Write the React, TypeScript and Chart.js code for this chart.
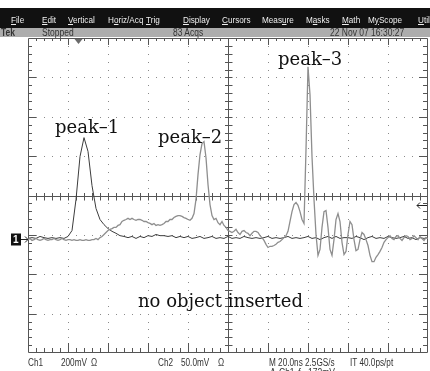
import React, { useEffect, useRef } from "react";
import { Chart, registerables } from "chart.js";

Chart.register(...registerables);

// ---- data (vertical values in graticule divisions, time in ns) ----
const SAMPLE_NS_CH1 = 2;
const SAMPLE_NS_CH2 = 1;

const CH1_DIV = [
  -1.09, -1.07, -1.09, -1.04, -1.07, -1.09, -1.07, -1.09, -1.07, -1.09,
  -1.04, -0.89, -0.10, 0.99, 1.47, 1.12, 0.25, -0.33, -0.61, -0.74,
  -0.84, -0.91, -0.96, -1.02, -1.04, -1.07, -1.04, -1.09, -1.04, -1.07,
  -1.02, -1.04, -0.99, -1.02, -1.02, -1.04, -1.02, -1.07, -1.04, -1.07,
  -1.04, -1.09, -1.07, -1.04, -1.09, -1.07, -1.04, -1.09, -1.07, -1.09,
  -1.04, -1.09, -1.07, -1.09, -1.04, -1.07, -1.09, -1.07, -1.09, -1.07,
  -1.04, -1.09, -1.07, -1.09, -1.07, -1.04, -1.09, -1.07, -1.09, -1.07,
  -1.04, -1.09, -1.07, -1.12, -1.07, -1.04, -1.09, -1.04, -1.09, -1.07,
  -1.07, -1.09, -1.04, -1.07, -1.12, -1.07, -1.04, -1.09, -1.07, -1.09,
  -1.04, -1.07, -1.09, -1.07, -1.04, -1.09, -1.07, -1.12, -1.07, -1.09,
  -1.07,
];

const CH2_DIV = [
  -1.12, -1.09, -1.14, -1.12, -1.09, -1.12, -1.14, -1.12, -1.09, -1.12,
  -1.14, -1.12, -1.12, -1.09, -1.12, -1.14, -1.12, -1.09, -1.12, -1.14,
  -1.12, -1.12, -1.14, -1.12, -1.14, -1.14, -1.12, -1.14, -1.14, -1.12,
  -1.14, -1.14, -1.12, -1.12, -1.09, -1.12, -1.07, -1.04, -0.99, -0.94,
  -0.89, -0.86, -0.84, -0.81, -0.81, -0.76, -0.74, -0.66, -0.63, -0.61,
  -0.58, -0.61, -0.58, -0.61, -0.63, -0.61, -0.61, -0.63, -0.66, -0.66,
  -0.69, -0.71, -0.74, -0.71, -0.76, -0.74, -0.76, -0.74, -0.71, -0.66,
  -0.66, -0.61, -0.61, -0.56, -0.53, -0.51, -0.51, -0.53, -0.56, -0.58,
  -0.61, -0.63, -0.58, -0.46, -0.10, 0.53, 1.04, 1.32, 1.37, 0.96,
  0.28, -0.23, -0.51, -0.61, -0.58, -0.69, -0.74, -0.66, -0.76, -0.81,
  -0.89, -0.91, -0.94, -0.91, -0.86, -0.94, -0.99, -0.91, -0.89, -0.94,
  -0.96, -1.02, -0.96, -0.91, -0.91, -0.94, -1.02, -1.07, -1.14, -1.24,
  -1.32, -1.29, -1.29, -1.27, -1.24, -1.19, -1.17, -1.12, -1.07, -1.02,
  -0.91, -0.66, -0.41, -0.23, -0.18, -0.25, -0.41, -0.61, -0.71, 1.17,
  3.27, 2.56, 0.99, -0.10, -0.99, -1.52, -1.37, -0.81, -0.41, -0.38,
  -0.81, -1.37, -1.52, -1.12, -0.61, -0.46, -0.66, -1.19, -1.50, -1.42,
  -0.99, -0.66, -0.74, -1.12, -1.40, -1.37, -1.12, -0.94, -0.99, -1.12,
  -1.27, -1.52, -1.68, -1.68, -1.57, -1.50, -1.42, -1.32, -1.19, -1.12,
  -1.07, -1.02, -1.09, -1.12, -1.04, -1.02, -1.09, -1.14, -1.07, -1.02,
  -1.04, -1.12, -1.09, -1.02, -1.07, -1.12, -1.04, -1.09, -1.14, -1.07,
  -1.09,
];

// graticule: 10 x 8 divisions, 20 ns/div, 5 minor steps per division
const X_MIN = 0;
const X_MAX = 200;
const X_DIVS = 10;
const Y_MIN = -4;
const Y_MAX = 4;
const Y_DIVS = 8;
const MINOR = 5;

const TRIGGER_POS_NS = 25;
const CH1_GROUND_DIV = -1.1;
const CH2_MARK_DIV = -0.25;

const MENU_ITEMS: [string, number][] = [
  ["File", 0], ["Edit", 0], ["Vertical", 0], ["Horiz/Acq", 1], ["Trig", 0],
  ["Display", 0], ["Cursors", 0], ["Measure", 4], ["Masks", 1], ["Math", 0],
  ["MyScope", 1], ["Utilities", 0],
];
const MENU_X = [11, 42, 68, 108, 146, 183, 222, 262, 306, 342, 368, 418];

const STATUS_ITEMS: [string, number, boolean][] = [
  ["Tek", 1, true], ["Stopped", 42, false], ["83 Acqs", 173, false], ["22 Nov 07 16:30:27", 330, false],
];

const BOTTOM_ITEMS: [string, number][] = [
  ["Ch1", 28], ["200mV", 61], ["\u03A9", 91], ["Ch2", 158], ["50.0mV", 181], ["\u03A9", 218],
  ["M 20.0ns 2.5GS/s", 269], ["IT 40.0ps/pt", 350],
];
const BOTTOM_ITEMS_2: [string, number][] = [
  ["A", 270], ["Ch1", 279], ["\u0192", 297], ["172mV", 308],
];

const ANNOTATIONS: [string, number, number][] = [
  ["peak\u20131", 55, 133],
  ["peak\u20132", 158, 143],
  ["peak\u20133", 278, 65],
  ["no object inserted", 138, 307],
];

const graticulePlugin = {
  id: "graticule",
  beforeDatasetsDraw(chart: any) {
    const { ctx, chartArea: a, scales } = chart;
    const xs = scales.x;
    const ys = scales.y;
    const X = (v: number) => Math.round(xs.getPixelForValue(v));
    const Y = (v: number) => Math.round(ys.getPixelForValue(v));
    const xStep = (X_MAX - X_MIN) / X_DIVS;
    const yStep = (Y_MAX - Y_MIN) / Y_DIVS;
    const L = Math.round(a.left), R = Math.round(a.right) - 1;
    const T = Math.round(a.top), B = Math.round(a.bottom) - 1;
    ctx.save();
    // dotted major lines
    ctx.fillStyle = "#8a8a8a";
    for (let i = 1; i < X_DIVS; i++) {
      if (i === X_DIVS / 2) continue;
      const px = X(X_MIN + i * xStep);
      for (let j = 1; j < Y_DIVS * MINOR; j++) {
        ctx.fillRect(px, Y(Y_MIN + (j * yStep) / MINOR), 1, 1);
      }
    }
    for (let j = 1; j < Y_DIVS; j++) {
      if (j === Y_DIVS / 2) continue;
      const py = Y(Y_MIN + j * yStep);
      for (let i = 1; i < X_DIVS * MINOR; i++) {
        ctx.fillRect(X(X_MIN + (i * xStep) / MINOR), py, 1, 1);
      }
    }
    // border + center cross
    ctx.strokeStyle = "#555";
    ctx.lineWidth = 1;
    ctx.beginPath();
    ctx.rect(L + 0.5, T + 0.5, R - L, B - T);
    const cx = X((X_MIN + X_MAX) / 2) + 0.5;
    const cy = Y((Y_MIN + Y_MAX) / 2) + 0.5;
    ctx.moveTo(cx, T);
    ctx.lineTo(cx, B + 1);
    ctx.moveTo(L, cy);
    ctx.lineTo(R + 1, cy);
    // ticks along x
    for (let i = 1; i < X_DIVS * MINOR; i++) {
      const px = X(X_MIN + (i * xStep) / MINOR) + 0.5;
      const major = i % MINOR === 0;
      ctx.moveTo(px, T);
      ctx.lineTo(px, T + (major ? 7 : 3));
      ctx.moveTo(px, B + 1);
      ctx.lineTo(px, B - (major ? 9 : 4));
      ctx.moveTo(px, cy - 3.5);
      ctx.lineTo(px, cy + 4);
    }
    for (let j = 1; j < Y_DIVS * MINOR; j++) {
      const py = Y(Y_MIN + (j * yStep) / MINOR) + 0.5;
      const major = j % MINOR === 0;
      ctx.moveTo(L, py);
      ctx.lineTo(L + (major ? 8 : 4), py);
      ctx.moveTo(R + 1, py);
      ctx.lineTo(R - (major ? 8 : 4), py);
      ctx.moveTo(cx - 3.5, py);
      ctx.lineTo(cx + 4, py);
    }
    ctx.stroke();
    // trigger position marker
    const tx = X(TRIGGER_POS_NS) + 0.5;
    ctx.fillStyle = "#6a6a6a";
    ctx.beginPath();
    ctx.moveTo(tx - 4, T + 1);
    ctx.lineTo(tx + 4, T + 1);
    ctx.lineTo(tx, T + 6);
    ctx.closePath();
    ctx.fill();
    // ch1 ground marker
    const gy = Y(CH1_GROUND_DIV) + 0.5;
    ctx.fillStyle = "#111";
    ctx.fillRect(11, gy - 6, 10, 12);
    ctx.strokeStyle = "#222";
    ctx.beginPath();
    ctx.moveTo(21, gy);
    ctx.lineTo(L, gy);
    ctx.moveTo(L - 3, gy - 3);
    ctx.lineTo(L, gy);
    ctx.lineTo(L - 3, gy + 3);
    ctx.stroke();
    // right marker
    const ry = Y(CH2_MARK_DIV) + 0.5;
    ctx.beginPath();
    ctx.moveTo(R - 10, ry);
    ctx.lineTo(R, ry);
    ctx.moveTo(R - 7, ry - 3);
    ctx.lineTo(R - 10, ry);
    ctx.lineTo(R - 7, ry + 3);
    ctx.stroke();
    ctx.restore();
  },
};

export default function App() {
  const ref = useRef<HTMLCanvasElement>(null);
  useEffect(() => {
    if (!ref.current) return;
    const chart = new Chart(ref.current, {
      type: "line",
      data: {
        datasets: [
          {
            label: "Ch2",
            data: CH2_DIV.map((v, i) => ({ x: i * SAMPLE_NS_CH2, y: v })),
            borderColor: "#8e8e8e",
            borderWidth: 1.3,
            pointRadius: 0,
            tension: 0,
          },
          {
            label: "Ch1",
            data: CH1_DIV.map((v, i) => ({ x: i * SAMPLE_NS_CH1, y: v })),
            borderColor: "#3c3c3c",
            borderWidth: 1,
            pointRadius: 0,
            tension: 0,
          },
        ],
      },
      options: {
        animation: false,
        responsive: false,
        devicePixelRatio: 1,
        layout: { padding: { left: 28, top: 38, right: 2, bottom: 18 } },
        plugins: { legend: { display: false }, tooltip: { enabled: false } },
        scales: {
          x: { type: "linear", min: X_MIN, max: X_MAX, display: false },
          y: { type: "linear", min: Y_MIN, max: Y_MAX, display: false },
        },
      },
      plugins: [graticulePlugin],
    });
    return () => chart.destroy();
  }, []);

  const sans = "'Liberation Sans', Arial, sans-serif";
  const abs = (left: number, top: number, extra: any = {}) => ({
    position: "absolute" as const,
    left,
    top,
    whiteSpace: "nowrap" as const,
    lineHeight: "10px",
    ...extra,
  });

  return (
    <div style={{ position: "absolute", left: 0, top: 0, width: 430, height: 371, overflow: "hidden", background: "#fff" }}>
      <div style={{ position: "absolute", left: 0, top: 8, width: 430, height: 20, background: "#111" }} />
      <div style={{ position: "absolute", left: 0, top: 28, width: 430, height: 9, background: "#adadad" }} />
      <canvas ref={ref} width={430} height={371} style={{ position: "absolute", left: 0, top: 0, width: 430, height: 371 }} />
      {MENU_ITEMS.map(([t, u], i) => (
        <span key={"m" + i} style={abs(MENU_X[i], 14.5, { color: "#eee", fontFamily: sans, fontSize: 9.5, transform: "scaleX(0.86)", transformOrigin: "left" })}>
          {t.slice(0, u)}<u>{t[u]}</u>{t.slice(u + 1)}
        </span>
      ))}
      {STATUS_ITEMS.map(([t, x, b], i) => (
        <span key={"s" + i} style={abs(x, 28, { color: "#333", fontFamily: sans, fontSize: 10, fontWeight: b ? "bold" : "normal", transform: "scaleX(0.85)", transformOrigin: "left" })}>
          {t}
        </span>
      ))}
      {BOTTOM_ITEMS.map(([t, x], i) => (
        <span key={"b" + i} style={abs(x, 357.5, { color: "#333", fontFamily: sans, fontSize: 10, transform: "scaleX(0.82)", transformOrigin: "left" })}>
          {t}
        </span>
      ))}
      {BOTTOM_ITEMS_2.map(([t, x], i) => (
        <span key={"c" + i} style={abs(x, 368, { color: "#333", fontFamily: sans, fontSize: 10, transform: "scaleX(0.85)", transformOrigin: "left" })}>
          {t}
        </span>
      ))}
      <span style={abs(13, 235, { color: "#fff", fontFamily: sans, fontSize: 10, fontWeight: "bold" })}>1</span>
      {ANNOTATIONS.map(([t, x, base], i) => (
        <span key={"a" + i} style={{ position: "absolute", left: x, top: base - 15.2, whiteSpace: "nowrap", fontFamily: "'DejaVu Serif', serif", fontSize: 18, lineHeight: "18px", color: "#111" }}>
          {t}
        </span>
      ))}
    </div>
  );
}
